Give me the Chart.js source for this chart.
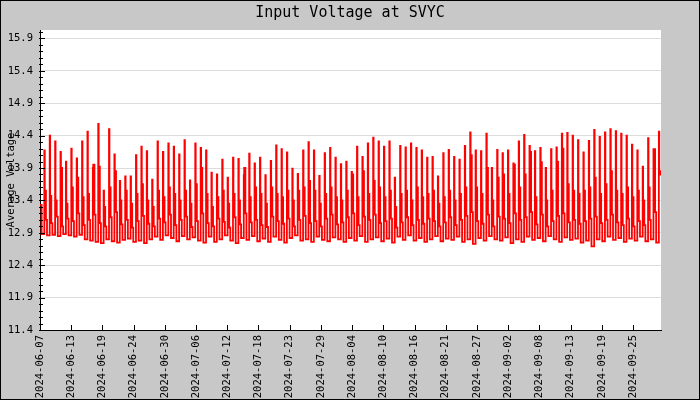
<!doctype html>
<html lang="en">
  <head>
    <meta charset="utf-8">
    <title>Input Voltage at SVYC</title>
    <style>
      body { margin: 0; background: #c8c8c8; }
      #chart { display: block; }
    </style>
  </head>
  <body>
    <canvas id="chart" width="700" height="400"></canvas>

    <script src="https://cdn.jsdelivr.net/npm/chart.js"></script>
    <script>
      // tick labels on the time axis (one every ~5.8 days)
      const xTickLabels = ['2024-06-07', '2024-06-13', '2024-06-19', '2024-06-24', '2024-06-30',
        '2024-07-06', '2024-07-12', '2024-07-18', '2024-07-23', '2024-07-29', '2024-08-04',
        '2024-08-10', '2024-08-16', '2024-08-21', '2024-08-27', '2024-09-02', '2024-09-08',
        '2024-09-13', '2024-09-19', '2024-09-25'];
      const xTickStep = 5.79;   // days between labels
      const daysShown = 115.2;  // length of the time axis in days
      const firstPeakDay = 0.8; // first daily peak, days after the axis start

      const yTickLabels = ['11.4', '11.9', '12.4', '12.9', '13.4', '13.9', '14.4', '14.9', '15.4', '15.9'];

      // daily readings (V), one per day
      const peakV = [
        14.17, 14.40, 14.31, 14.15, 14.00, 14.20, 14.05, 14.31, 14.46, 13.90,
        14.58, 13.55, 14.50, 14.11, 13.70, 13.77, 13.77, 14.10, 14.23, 14.16,
        13.72, 14.31, 14.15, 14.28, 14.23, 14.11, 14.33, 13.71, 14.28, 14.21,
        14.17, 13.83, 13.80, 14.03, 13.75, 14.06, 14.04, 13.79, 14.12, 13.97,
        14.06, 13.79, 14.01, 14.25, 14.19, 14.14, 13.89, 13.81, 14.17, 14.30,
        14.17, 13.78, 14.13, 14.21, 14.06, 13.96, 14.00, 13.84, 14.23, 14.07,
        14.28, 14.37, 14.31, 14.23, 14.31, 13.75, 14.24, 14.22, 14.28, 14.21,
        14.17, 14.06, 14.07, 13.77, 14.13, 14.18, 14.07, 14.03, 14.24, 14.45,
        14.17, 14.16, 14.43, 13.90, 14.18, 14.13, 14.17, 13.97, 14.31, 14.41,
        14.24, 14.16, 14.21, 13.90, 14.19, 14.22, 14.43, 14.44, 14.40, 14.33,
        14.14, 14.32, 14.49, 14.38, 14.45, 14.50, 14.47, 14.43, 14.40, 14.26,
        14.17, 13.92, 14.36, 14.19, 14.46
      ];
      const floatV = [
        13.55, 13.47, 13.40, 13.90, 13.35, 13.60, 13.75, 13.45, 13.50, 13.95,
        13.92, 13.30, 13.60, 13.85, 13.40, 13.55, 13.35, 13.50, 13.65, 13.40,
        13.30, 13.55, 13.45, 13.60, 13.50, 13.40, 13.55, 13.35, 13.65, 13.90,
        13.50, 13.30, 13.45, 13.55, 13.35, 13.50, 13.40, 13.90, 13.45, 13.60,
        13.50, 13.35, 13.60, 13.50, 13.45, 13.55, 13.40, 13.55, 13.60, 13.70,
        13.55, 13.35, 13.50, 13.60, 13.45, 13.40, 13.55, 13.80, 13.45, 13.85,
        13.50, 13.70, 13.60, 13.45, 13.55, 13.30, 13.50, 13.55, 13.40, 13.60,
        13.45, 13.50, 13.55, 13.35, 13.45, 13.55, 13.40, 13.50, 13.60, 14.10,
        13.60, 13.50, 13.90, 13.40, 13.75, 13.80, 13.50, 13.95, 13.60, 13.80,
        14.15, 13.45, 13.99, 13.40, 13.55, 14.00, 14.20, 13.65, 13.55, 13.50,
        13.55, 13.60, 13.75, 13.50, 13.65, 13.85, 13.55, 13.50, 13.60, 13.45,
        13.55, 13.40, 13.60, 14.19, 13.85
      ];
      const duskV = [
        13.10, 13.05, 13.15, 13.00, 13.12, 13.08, 13.20, 13.02, 13.10, 13.18,
        13.05, 13.00, 13.14, 13.22, 13.03, 13.10, 12.98, 13.08, 13.16, 13.04,
        13.00, 13.12, 13.06, 13.18, 13.02, 13.10, 13.15, 12.99, 13.08, 13.20,
        13.05, 13.00, 13.12, 13.07, 12.98, 13.14, 13.03, 13.20, 13.06, 13.10,
        13.02, 12.99, 13.15, 13.08, 13.04, 13.12, 13.00, 13.10, 13.16, 13.05,
        13.08, 13.00, 13.12, 13.18, 13.03, 13.06, 13.14, 13.20, 13.02, 13.15,
        13.10, 13.18, 13.05, 13.08, 13.12, 12.98, 13.06, 13.14, 13.02, 13.10,
        13.04, 13.12, 13.08, 13.00, 13.06, 13.14, 13.02, 13.10, 13.16, 13.22,
        13.08, 13.04, 13.18, 13.00, 13.15, 13.12, 13.05, 13.20, 13.10, 13.14,
        13.22, 13.03, 13.18, 13.00, 13.08, 13.16, 13.20, 13.06, 13.10, 13.04,
        13.08, 13.12, 13.15, 13.05, 13.10, 13.18, 13.06, 13.02, 13.12, 13.00,
        13.08, 13.02, 13.10, 13.22, 13.80
      ];
      // night minimum before each day's peak
      const lowV = [
        12.88, 12.86, 12.87, 12.85, 12.88, 12.86, 12.84, 12.87, 12.80, 12.78,
        12.76, 12.74, 12.80, 12.77, 12.75, 12.79, 12.81, 12.76, 12.78, 12.74,
        12.80, 12.84, 12.79, 12.86, 12.82, 12.77, 12.85, 12.80, 12.83, 12.78,
        12.75, 12.84, 12.76, 12.80, 12.86, 12.78, 12.74, 12.82, 12.79, 12.85,
        12.77, 12.81, 12.76, 12.84, 12.79, 12.75, 12.82, 12.86, 12.78, 12.80,
        12.76, 12.84, 12.79, 12.77, 12.83, 12.80, 12.76, 12.82, 12.78, 12.85,
        12.76, 12.80, 12.83, 12.77, 12.81, 12.75, 12.84, 12.79, 12.86, 12.78,
        12.82, 12.76, 12.80, 12.85, 12.77, 12.81, 12.79, 12.84, 12.76, 12.80,
        12.73, 12.82, 12.78, 12.85, 12.80, 12.78, 12.83, 12.74, 12.80, 12.76,
        12.84, 12.79, 12.82, 12.77, 12.85, 12.80, 12.76, 12.83, 12.79, 12.81,
        12.75, 12.78, 12.69, 12.80, 12.77, 12.84, 12.79, 12.82, 12.76, 12.81,
        12.78, 12.84, 12.77, 12.80, 12.75
      ];
      const startV = 13.33;

      // build the x/y series: low -> peak -> float -> dusk for every day
      const points = [{ x: 0, y: startV }];
      for (let k = 0; k < peakV.length; k++) {
        const t = firstPeakDay + k;
        points.push({ x: t - 0.5, y: lowV[k] });
        points.push({ x: t, y: peakV[k] });
        points.push({ x: t + 0.08, y: floatV[k] });
        points.push({ x: t + 0.3, y: duskV[k] });
      }
      points.push({ x: daysShown, y: duskV[duskV.length - 1] });

      const MONO = "'DejaVu Sans Mono', monospace";
      Chart.defaults.font.family = MONO;
      Chart.defaults.font.size = 10.5;
      Chart.defaults.color = '#000';

      // background, frame, inside ticks, title and y-axis name
      const decor = {
        id: 'decor',
        beforeDraw(chart) {
          const { ctx, chartArea: a } = chart;
          ctx.save();
          ctx.fillStyle = '#c8c8c8';
          ctx.fillRect(0, 0, chart.width, chart.height);
          ctx.fillStyle = '#fff';
          ctx.fillRect(a.left, a.top, a.right - a.left, a.bottom - a.top);
          ctx.restore();
        },
        afterDraw(chart) {
          const { ctx, chartArea: a, scales } = chart;
          const y = scales.y, x = scales.x;
          ctx.save();
          ctx.strokeStyle = '#000';
          ctx.lineWidth = 1;
          ctx.beginPath();
          // minor y ticks every 0.1, major on the labelled values
          for (let i = 0; i <= 46; i++) {
            const v = 11.4 + i * 0.1;
            const py = Math.round(y.getPixelForValue(v)) + 0.5;
            if (py < a.top) continue;
            const len = i % 5 === 0 ? 5 : 3;
            ctx.moveTo(a.left - 1, py);
            ctx.lineTo(a.left + len, py);
          }
          xTickLabels.forEach((_, i) => {
            const px = Math.round(x.getPixelForValue(i * xTickStep)) + 0.5;
            ctx.moveTo(px, a.bottom);
            ctx.lineTo(px, a.bottom - 5);
          });
          ctx.stroke();
          ctx.strokeRect(0.5, 0.5, chart.width - 1, chart.height - 1);

          ctx.fillStyle = '#000';
          ctx.textAlign = 'center';
          ctx.textBaseline = 'middle';
          ctx.font = '15px ' + MONO;
          ctx.fillText('Input Voltage at SVYC', 350, 13);

          ctx.translate(11, (a.top + a.bottom) / 2);
          ctx.rotate(-Math.PI / 2);
          ctx.font = '10.5px ' + MONO;
          ctx.fillText('Average Voltage', 0, 0);
          ctx.restore();
        }
      };

      new Chart(document.getElementById('chart'), {
        type: 'line',
        data: {
          datasets: [{
            label: 'Average Voltage',
            data: points,
            borderColor: '#ff0000',
            borderWidth: 1.8,
            pointRadius: 0,
            stepped: true,
            fill: false
          }]
        },
        options: {
          responsive: false,
          animation: false,
          devicePixelRatio: 1,
          layout: { padding: { top: 30, right: 39, bottom: 0, left: 0 } },
          plugins: { legend: { display: false }, tooltip: { enabled: false } },
          scales: {
            x: {
              type: 'linear',
              min: 0,
              max: daysShown,
              afterFit(scale) { scale.height = 70; },
              afterBuildTicks(scale) {
                scale.ticks = xTickLabels.map((_, i) => ({ value: i * xTickStep }));
              },
              grid: { display: false, drawTicks: false },
              border: { display: true, color: '#000', width: 1 },
              ticks: {
                autoSkip: false,
                minRotation: 90,
                maxRotation: 90,
                padding: 5,
                callback: (v, i) => xTickLabels[i]
              }
            },
            y: {
              min: 11.4,
              max: 16.03,
              afterFit(scale) { scale.width = 40; },
              afterBuildTicks(scale) {
                scale.ticks = yTickLabels.map(l => ({ value: parseFloat(l) }));
              },
              grid: { color: '#dcdcdc', drawTicks: false },
              border: { display: true, color: '#000', width: 1 },
              ticks: {
                padding: 7,
                callback: (v, i) => yTickLabels[i]
              }
            }
          }
        },
        plugins: [decor]
      });
    </script>
  </body>
</html>
